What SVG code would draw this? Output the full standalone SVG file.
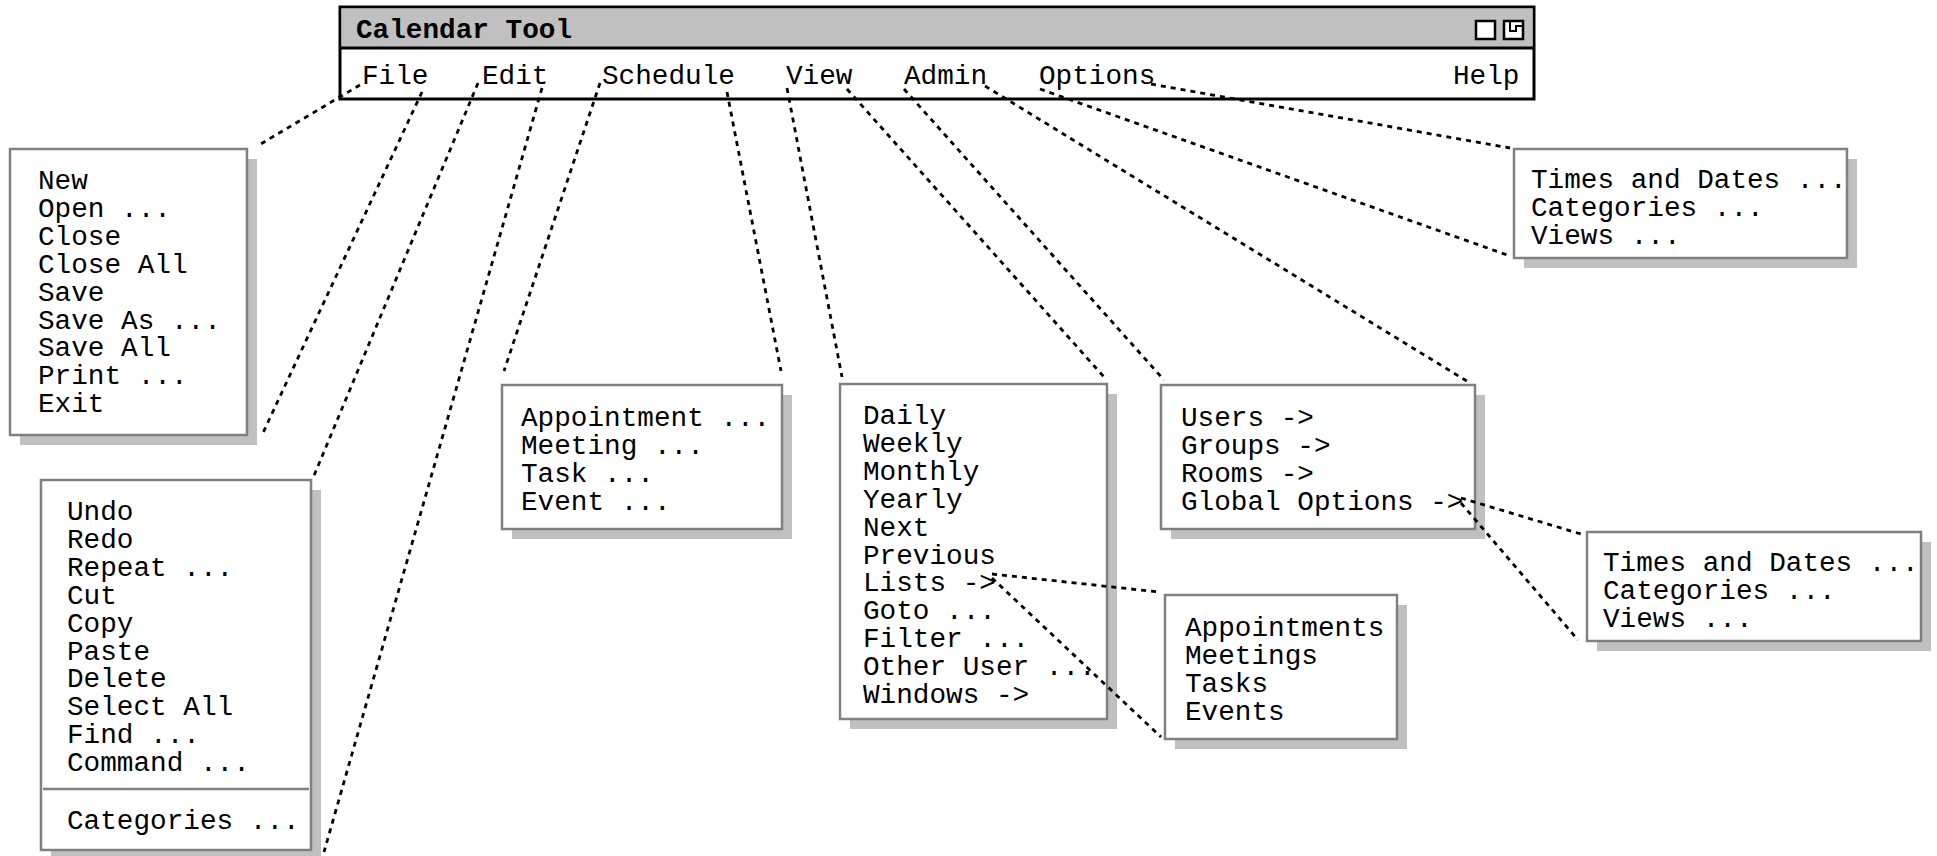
<svg xmlns="http://www.w3.org/2000/svg" width="1937" height="856" viewBox="0 0 1937 856">
<style>
.bg{fill:#ffffff}
.box{fill:#ffffff;stroke:#808080;stroke-width:2.5}
.sh{fill:#c0c0c0}
.t{font-family:"Liberation Mono","Courier New",monospace;font-size:27.7px;fill:#000}
.tb{font-family:"Liberation Mono","Courier New",monospace;font-size:27.7px;font-weight:bold;fill:#000}
.c{stroke:#000;stroke-width:2.8;stroke-dasharray:5 5;fill:none}
</style>
<rect class="bg" x="0" y="0" width="1937" height="856"/>
<g id="window">
<rect x="340" y="7" width="1194" height="92" fill="#ffffff" stroke="#000" stroke-width="3"/>
<rect x="341.5" y="8.5" width="1191" height="39.5" fill="#c0c0c0"/>
<line x1="340" y1="48" x2="1534" y2="48" stroke="#000" stroke-width="3"/>
<text class="tb" x="356" y="38">Calendar Tool</text>
<rect x="1476" y="21" width="19" height="18" fill="#fff" stroke="#000" stroke-width="2.5"/>
<rect x="1504" y="21" width="19" height="18" fill="#fff" stroke="#000" stroke-width="2.5"/>
<polyline points="1510,22 1510,31 1516,31 1516,26 1522,26" fill="none" stroke="#000" stroke-width="2"/>
<text class="t" x="362" y="84">File</text>
<text class="t" x="482" y="84">Edit</text>
<text class="t" x="602" y="84">Schedule</text>
<text class="t" x="786" y="84">View</text>
<text class="t" x="904" y="84">Admin</text>
<text class="t" x="1039" y="84">Options</text>
<text class="t" x="1453" y="84">Help</text>
</g>
<g id="file-menu">
<rect class="sh" x="20" y="159" width="237" height="286"/>
<rect class="box" x="10" y="149" width="237" height="286"/>
<text class="t" x="38" y="189">New</text>
<text class="t" x="38" y="216.9">Open ...</text>
<text class="t" x="38" y="244.8">Close</text>
<text class="t" x="38" y="272.7">Close All</text>
<text class="t" x="38" y="300.6">Save</text>
<text class="t" x="38" y="328.5">Save As ...</text>
<text class="t" x="38" y="356.4">Save All</text>
<text class="t" x="38" y="384.3">Print ...</text>
<text class="t" x="38" y="412.2">Exit</text>
</g>
<g id="edit-menu">
<rect class="sh" x="51" y="490" width="270" height="370"/>
<rect class="box" x="41" y="480" width="270" height="370"/>
<text class="t" x="67" y="520">Undo</text>
<text class="t" x="67" y="547.9">Redo</text>
<text class="t" x="67" y="575.8">Repeat ...</text>
<text class="t" x="67" y="603.7">Cut</text>
<text class="t" x="67" y="631.6">Copy</text>
<text class="t" x="67" y="659.5">Paste</text>
<text class="t" x="67" y="687.4">Delete</text>
<text class="t" x="67" y="715.3">Select All</text>
<text class="t" x="67" y="743.2">Find ...</text>
<text class="t" x="67" y="771.1">Command ...</text>
<line x1="43" y1="789" x2="309" y2="789" stroke="#808080" stroke-width="2.5"/>
<text class="t" x="67" y="829">Categories ...</text>
</g>
<g id="schedule-menu">
<rect class="sh" x="512" y="395" width="280" height="144"/>
<rect class="box" x="502" y="385" width="280" height="144"/>
<text class="t" x="521" y="426">Appointment ...</text>
<text class="t" x="521" y="453.9">Meeting ...</text>
<text class="t" x="521" y="481.8">Task ...</text>
<text class="t" x="521" y="509.7">Event ...</text>
</g>
<g id="view-menu">
<rect class="sh" x="850" y="394" width="267" height="335"/>
<rect class="box" x="840" y="384" width="267" height="335"/>
<text class="t" x="863" y="424">Daily</text>
<text class="t" x="863" y="451.9">Weekly</text>
<text class="t" x="863" y="479.8">Monthly</text>
<text class="t" x="863" y="507.7">Yearly</text>
<text class="t" x="863" y="535.6">Next</text>
<text class="t" x="863" y="563.5">Previous</text>
<text class="t" x="863" y="591.4">Lists -&gt;</text>
<text class="t" x="863" y="619.3">Goto ...</text>
<text class="t" x="863" y="647.2">Filter ...</text>
<text class="t" x="863" y="675.1">Other User ...</text>
<text class="t" x="863" y="703">Windows -&gt;</text>
</g>
<g id="admin-menu">
<rect class="sh" x="1171" y="395" width="314" height="144"/>
<rect class="box" x="1161" y="385" width="314" height="144"/>
<text class="t" x="1181" y="426">Users -&gt;</text>
<text class="t" x="1181" y="453.9">Groups -&gt;</text>
<text class="t" x="1181" y="481.8">Rooms -&gt;</text>
<text class="t" x="1181" y="509.7">Global Options -&gt;</text>
</g>
<g id="lists-menu">
<rect class="sh" x="1175" y="605" width="232" height="144"/>
<rect class="box" x="1165" y="595" width="232" height="144"/>
<text class="t" x="1185" y="636">Appointments</text>
<text class="t" x="1185" y="663.9">Meetings</text>
<text class="t" x="1185" y="691.8">Tasks</text>
<text class="t" x="1185" y="719.7">Events</text>
</g>
<g id="options-menu">
<rect class="sh" x="1524" y="159" width="333" height="109"/>
<rect class="box" x="1514" y="149" width="333" height="109"/>
<text class="t" x="1531" y="188">Times and Dates ...</text>
<text class="t" x="1531" y="215.9">Categories ...</text>
<text class="t" x="1531" y="243.8">Views ...</text>
</g>
<g id="global-options-menu">
<rect class="sh" x="1597" y="542" width="334" height="109"/>
<rect class="box" x="1587" y="532" width="334" height="109"/>
<text class="t" x="1603" y="571">Times and Dates ...</text>
<text class="t" x="1603" y="598.9">Categories ...</text>
<text class="t" x="1603" y="626.8">Views ...</text>
</g>
<g id="connectors">
<line class="c" x1="360" y1="85" x2="259" y2="145"/>
<line class="c" x1="422" y1="92" x2="262" y2="435"/>
<line class="c" x1="478" y1="83" x2="313" y2="478"/>
<line class="c" x1="542" y1="88" x2="324" y2="852"/>
<line class="c" x1="600" y1="83" x2="504" y2="371"/>
<line class="c" x1="727" y1="92" x2="781" y2="371"/>
<line class="c" x1="787" y1="88" x2="842" y2="377"/>
<line class="c" x1="847" y1="89" x2="1104" y2="377"/>
<line class="c" x1="904" y1="89" x2="1164" y2="380"/>
<line class="c" x1="985" y1="86" x2="1470" y2="383"/>
<line class="c" x1="1040" y1="89" x2="1510" y2="256"/>
<line class="c" x1="1151" y1="84" x2="1510" y2="148"/>
<line class="c" x1="992" y1="574" x2="1159" y2="592"/>
<line class="c" x1="992" y1="578" x2="1161" y2="737"/>
<line class="c" x1="1461" y1="498" x2="1581" y2="534"/>
<line class="c" x1="1461" y1="503" x2="1578" y2="640"/>
</g>
</svg>
